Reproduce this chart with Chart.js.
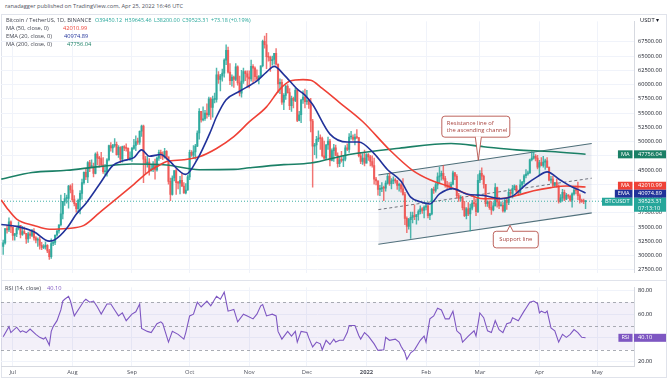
<!DOCTYPE html>
<html><head><meta charset="utf-8">
<script src="https://cdn.jsdelivr.net/npm/chart.js@4.4.1/dist/chart.umd.min.js"></script>
<style>
html,body{margin:0;padding:0;background:#fff;}
#wrap{position:relative;width:668px;height:379px;overflow:hidden;font-family:'Open Sans',sans-serif;}
.t{position:absolute;white-space:nowrap;font-size:5.7px;line-height:8px;color:#434651;}
.v span{margin-right:2.4px;color:#26a69a;}
canvas{position:absolute;left:0;}
</style></head><body>
<div id="wrap">
 <div class="t" style="left:5px;top:2px;color:#50535e">ranadagger published on TradingView.com, Apr 25, 2022 16:46 UTC</div>
 <div style="position:absolute;left:1px;top:14px;width:666px;height:364px;border:1px solid #e0e3eb;box-sizing:border-box"></div>
 <canvas id="pc" width="668" height="266" style="top:14px"></canvas>
 <canvas id="rc" width="668" height="99" style="top:280px"></canvas>
 <div style="position:absolute;left:1px;top:280px;width:666px;height:1px;background:#e0e3eb"></div>
 <div class="t" style="left:6px;top:16px">Bitcoin / TetherUS, 1D, BINANCE</div>
 <div class="t v" style="left:95px;top:16px;font-size:5.4px"><span>O39450.12</span><span>H39645.46</span><span>L38200.00</span><span>C39523.31</span><span>+73.18 (+0.19%)</span></div>
 <div class="t" style="left:6px;top:24.3px">MA (50, close, 0)</div>
 <div class="t" style="left:63px;top:24.3px;color:#ef4136">42010.99</div>
 <div class="t" style="left:6px;top:32px">EMA (20, close, 0)</div>
 <div class="t" style="left:64px;top:32px;color:#21329a">40974.89</div>
 <div class="t" style="left:6px;top:40.3px">MA (200, close, 0)</div>
 <div class="t" style="left:67px;top:40.3px;color:#1b8066">47756.04</div>
 <div class="t" style="left:640px;top:15.5px;color:#131722">USDT ▾</div>
 <div class="t" style="left:5px;top:284px">RSI (14, close)</div>
 <div class="t" style="left:47px;top:284px;color:#7e57c2">40.10</div>
</div>
<script>
// ===== DATA (prices in thousands of USDT, daily candles Jun 26 2021 – Apr 25 2022) =====
const firstOpen = 31.6;
const closes = [
32.2,34.7,34.5,35.9,35.0,
33.5,33.8,34.7,35.3,33.7,34.2,33.9,32.9,33.8,33.5,34.3,33.1,32.7,32.8,31.8,31.4,31.5,31.8,30.8,29.8,32.1,32.3,33.6,34.3,35.4,37.3,39.5,40.0,40.0,42.2,41.5,
39.8,39.1,38.2,39.7,40.9,42.8,44.6,43.8,46.3,45.6,45.6,44.4,47.8,47.1,47.0,45.9,44.7,44.7,46.8,49.3,48.9,49.3,49.5,47.7,49.0,46.9,49.1,48.9,48.8,47.0,47.2,
48.8,49.3,50.0,49.9,51.8,52.7,46.9,46.1,46.4,44.9,45.2,46.0,45.0,47.1,48.1,47.8,47.3,48.3,47.3,43.0,40.7,43.6,44.9,42.8,42.7,43.2,42.2,41.0,41.5,43.8,
48.1,47.6,48.2,49.2,51.5,55.3,53.8,54.0,55.0,54.7,57.5,56.0,57.4,57.4,61.7,60.9,61.5,62.0,64.3,66.0,62.2,60.7,61.3,60.9,63.1,60.3,58.5,60.6,62.3,61.9,61.3,
61.0,63.2,62.9,61.4,61.0,61.5,63.3,67.6,67.0,64.9,64.8,64.2,64.4,65.5,63.6,60.1,60.4,56.9,58.1,59.7,58.6,56.3,57.6,57.2,59.0,53.7,54.7,57.3,57.8,57.0,
57.2,56.5,53.6,49.2,49.4,50.4,50.6,50.5,47.5,47.1,49.4,50.1,46.7,48.4,48.9,47.6,46.1,46.8,46.7,46.9,48.9,48.6,50.8,50.8,50.4,50.8,50.7,47.5,46.5,47.1,46.2,
47.7,47.3,46.5,45.8,43.4,43.1,41.6,41.7,41.9,41.8,42.7,43.9,42.6,43.1,43.2,43.1,42.3,42.4,41.7,40.7,36.5,35.1,36.3,36.7,37.0,36.8,37.2,37.7,38.2,37.9,38.5,
38.7,37.0,37.3,41.6,41.4,42.4,43.8,44.0,44.4,43.5,42.4,42.2,42.1,42.5,44.5,43.9,40.5,40.0,40.1,38.4,37.0,38.2,37.3,38.3,39.2,39.1,37.7,43.2,
44.4,43.9,42.5,39.1,39.4,38.4,38.0,38.7,41.9,39.4,38.7,38.8,37.8,39.7,39.3,41.1,40.9,41.8,42.2,41.3,41.0,42.4,42.9,44.0,44.3,44.5,46.8,47.1,47.4,47.1,45.5,
46.3,45.8,46.4,46.6,45.5,43.2,43.4,42.3,42.8,42.2,39.5,40.1,41.1,39.9,40.6,40.4,39.7,40.8,41.5,41.4,40.5,39.7,39.5,39.45,39.52
];
const highs = [
32.7,34.7,35.3,36.6,36.1,
35.0,33.9,34.9,35.9,35.3,35.1,35.0,33.9,34.1,34.3,34.6,34.7,33.3,33.1,33.2,32.3,31.9,32.4,31.9,31.1,32.9,32.6,33.6,34.5,35.4,40.6,39.5,40.9,40.6,42.3,42.4,
42.6,40.5,39.2,39.9,41.4,43.4,44.7,45.3,46.5,46.7,46.8,46.2,48.0,48.2,47.4,48.1,47.2,46.0,47.0,49.4,49.8,49.5,50.5,49.9,49.3,49.1,49.2,49.3,49.6,48.9,48.2,
49.0,50.4,51.0,50.6,51.9,52.9,52.9,47.4,47.4,47.0,45.9,46.5,46.9,47.3,48.5,48.5,48.2,48.8,48.4,47.3,43.6,44.0,44.9,45.2,43.0,43.9,44.4,42.8,42.6,44.1,
48.5,48.4,49.3,49.5,51.9,55.8,55.3,56.1,55.5,56.6,57.8,57.7,58.0,58.5,62.9,62.3,61.8,62.7,64.5,67.0,66.6,63.7,61.7,61.5,63.7,63.3,61.5,62.5,62.9,62.4,62.4,
62.4,64.3,63.5,63.1,62.6,61.6,63.3,67.8,68.5,69.0,65.6,65.0,65.0,65.5,66.3,63.6,61.0,60.9,58.4,59.9,60.0,59.3,58.0,57.8,59.4,59.2,55.3,57.4,58.9,59.2,
59.0,57.4,57.6,53.9,49.7,50.9,51.9,51.2,50.8,50.1,49.5,50.8,50.4,48.7,49.5,49.4,48.0,47.3,48.3,47.5,49.3,49.6,51.4,51.8,51.2,51.3,52.1,50.7,48.1,47.9,48.5,
47.9,47.9,47.6,47.5,47.1,43.7,43.1,42.3,42.8,42.2,43.1,44.3,44.5,43.5,43.8,43.5,43.2,42.7,42.6,43.5,41.1,36.8,36.5,37.6,37.6,38.9,37.2,38.0,38.7,38.4,38.7,
39.3,38.9,37.4,41.8,42.0,42.7,44.5,45.5,44.8,45.8,43.9,43.0,42.8,42.9,44.8,44.6,44.2,40.9,40.5,40.4,39.5,38.4,39.3,39.0,39.7,40.3,39.9,44.2,
44.9,45.4,44.1,42.5,39.6,39.6,39.5,39.3,42.6,42.0,40.2,39.4,39.3,39.9,39.9,41.7,41.5,42.3,42.4,42.3,41.5,43.3,43.0,44.2,45.1,44.8,46.9,48.2,48.1,47.7,47.6,
46.7,47.2,47.4,46.9,47.2,45.5,43.9,43.9,42.8,43.4,42.4,40.7,41.6,41.5,40.9,40.7,40.6,41.0,41.8,42.2,42.9,40.8,39.9,39.9,39.65
];
const lows = [
30.2,32.0,33.9,34.2,34.0,
32.7,32.7,33.3,34.5,33.1,33.5,33.8,32.1,32.3,33.0,33.3,32.7,32.2,31.6,31.1,31.0,31.2,31.1,30.5,29.3,29.5,31.7,31.9,33.4,33.9,35.2,36.4,38.8,39.2,38.3,41.0,
39.4,38.7,37.6,37.5,37.3,39.9,42.5,43.3,42.8,44.7,45.4,43.8,44.3,45.9,45.5,45.7,44.4,44.2,43.9,46.6,48.3,48.1,49.0,47.6,47.2,46.3,46.4,48.4,48.3,46.9,46.7,
46.5,48.6,48.4,49.5,49.5,50.9,42.8,44.4,45.5,44.1,44.8,44.7,43.4,44.8,46.7,47.0,46.8,47.1,46.9,42.5,39.6,40.6,43.1,40.7,41.7,40.8,42.1,40.9,40.8,41.4,
43.3,47.4,47.1,46.9,49.1,50.4,53.4,53.6,53.7,54.1,54.4,53.9,54.3,56.8,56.9,60.2,58.9,60.6,61.3,63.5,62.0,60.0,59.7,59.5,60.7,59.9,58.0,57.8,60.2,60.7,59.6,
59.4,60.6,60.4,60.7,60.8,60.1,61.4,63.1,66.4,62.8,64.1,62.3,63.4,63.6,63.4,58.6,58.4,56.5,55.6,57.4,58.5,55.6,55.3,55.9,57.0,53.5,53.6,53.3,56.7,55.9,
56.5,55.8,51.7,42.0,47.7,47.1,50.0,48.6,47.3,46.9,46.8,48.6,45.7,46.6,46.5,47.5,45.5,45.6,46.4,45.6,46.6,48.4,48.1,50.4,50.2,49.4,50.5,47.3,46.1,46.0,45.7,
46.2,46.7,45.7,45.5,42.5,42.4,40.6,40.5,41.2,39.6,41.3,42.5,42.3,41.7,42.6,42.7,41.6,41.3,41.1,40.6,35.4,34.0,34.6,33.0,35.7,36.3,35.5,36.2,37.3,37.4,36.6,
38.0,36.6,36.3,37.1,40.9,41.1,41.7,42.7,43.2,43.2,42.0,41.7,41.9,41.6,42.4,43.3,40.1,39.5,39.6,38.0,36.8,36.4,37.0,34.3,38.0,38.6,37.0,37.5,
42.8,43.3,41.8,38.6,38.6,38.1,37.2,37.8,38.7,38.5,38.2,38.7,37.6,37.6,38.1,38.9,40.5,40.1,41.5,40.9,40.5,40.9,41.8,42.6,43.6,44.1,44.4,46.6,46.9,46.6,45.2,
44.2,45.7,45.5,45.1,45.4,43.1,42.7,42.1,42.1,42.0,39.2,39.3,39.6,39.6,39.8,40.0,39.5,38.5,40.6,40.8,39.8,39.2,39.3,39.1,38.2
];
// moving averages (day index, value in thousands)
const ma50Days = [-6,-3,2,11,19,28,37,45,54,63,71,76,80,89,97,106,115,123,132,139,144,151,155,161,170,182,196,208,217,226,234,245,253,262,271,280,288,298];
const ma50Vals = [39.75,38.31,36.39,35.28,34.61,34.73,35.28,37.48,39.97,42.5,44.8,45.8,46.5,46.8,47.33,48.79,50.87,53.44,56.09,59.21,60.6,60.87,60.77,59.32,56.84,53.52,48.55,44.95,43.29,42.19,41.08,39.97,39.97,40.53,41.36,41.91,42.19,42.01];
const emaDays = [-6,2,11,19,22,28,33,38,45,52,57,63,67,71,77,81,90,96,103,106,111,118,127,132,136,141,148,152,156,165,174,180,188,195,202,207,212,217,222,229,236,245,254,260,267,273,278,285,290,294,298];
const emaVals = [35.44,35.11,34.17,32.51,32.79,34.73,37.22,39.14,42.46,45.78,46.6,47.17,48.54,47.43,47.72,46.72,44.23,46.89,51.86,54.35,57.34,58.83,60.65,62.19,63.19,61.76,59.21,58.16,56.5,51.31,49.92,49.92,47.88,45.06,43.02,40.25,39.42,39.04,40.8,41.74,40.8,40.53,39.97,40.42,42.46,43.85,44.68,43.2,42.2,41.6,40.97];
const ma200Days = [-6,10,28,45,62,80,97,115,123,141,155,175,201,228,245,262,280,298];
const ma200Vals = [43.4,44.56,44.95,45.6,46.06,45.89,45.06,45.11,45.39,45.94,46.22,47.72,48.83,49.66,49.09,48.54,48.26,47.76];
// RSI (14)
const rsiDays = [-5,-2,-1,2,4,5,7,9,12,14,16,17,19,20,21,23,25,26,27,29,30,32,35,37,38,40,42,44,46,49,51,53,55,57,59,62,64,66,67,70,72,75,77,78,81,83,86,89,90,92,94,96,98,101,103,106,108,110,112,115,117,120,122,125,127,129,130,132,135,137,138,140,143,145,147,148,150,153,154,156,158,160,161,163,165,167,168,170,172,174,175,178,180,181,183,185,188,190,193,194,196,199,201,202,204,205,207,209,212,214,215,217,219,221,223,225,227,229,231,233,234,237,240,241,243,245,247,249,251,253,255,257,259,260,263,266,267,269,271,273,274,275,277,278,280,282,284,286,288,290,292,294,296,298];
const rsiVals = [41,49.5,44.5,49,45,46,44.5,47.5,43,40.5,39,40.5,34,45.5,49.5,54.5,63.5,71,72.5,75,71,58.5,66,71,72.5,70,71,66,60,68.5,68.5,63.5,58.5,61,54.5,60,62,68.5,48,45.5,44.5,52,53.5,52,36.5,45.5,43,39,44.5,58.5,60,70,66,71,67,75,72.5,78.5,62.5,64,53.5,60,58.5,56,60,67,68,58.5,60,58.5,45.5,39,45.5,41.5,45.5,36.5,45.5,44.5,40,32.5,36.5,35,30,38,34.5,39,36.5,38,38,44.5,50.5,50.5,42,39,44.5,41.5,35,29.5,30,40.5,38,39,36.5,33,27.5,22,27.5,30,38,41.5,36.5,56,58.5,65,63.5,56,56,62.5,46,43,36.5,41.5,46,41.5,61,57,46,44.5,54.5,47,44.5,52,53,57,54.5,62.5,65,70,71,69,61,62.5,61,62.5,48.5,46,36.5,43,40.5,43,47,44.5,40.5,40.1];
// ascending channel (drawn annotation) endpoints
const chDays = [190.2, 301.2];
const chUpper = [44.12, 49.66];
const chMid = [38.05, 43.57];
const chLower = [31.96, 37.48];
const lastPrice = 39.52331;
// axes
const monthDays = [0,31,62,92,123,153,184,215,243,274,304];
const monthLabels = ['Jul','Aug','Sep','Oct','Nov','Dec','2022','Feb','Mar','Apr','May'];
const priceTicks = [27.5,30,32.5,35,37.5,40,42.5,45,47.5,50,52.5,55,57.5,60,62.5,65,67.5];
const rsiTicks = [20,40,60,80];
const rsiLevels = [70,50,30];
// right-axis tags
const priceTags = [
 {label:'MA', value:47.75604, text:'47756.04', color:'#1b8066'},
 {label:'MA', value:42.01099, text:'42010.99', color:'#ef4136'},
 {label:'EMA', value:40.97489, text:'40974.89', color:'#21329a'},
 {label:'BTCUSDT', value:39.52331, text:'39523.31', sub:'07:13:10', color:'#26a69a'}
];
const rsiTag = {label:'RSI', value:40.10, text:'40.10', color:'#7e57c2'};
// text callouts
const callouts = [
 {lines:['Resistance line of','the ascending channel'], cx:240.9, cy:52.61, w:68, h:21, tipX:242.2, tipY:46.72, side:'bottom', align:'left'},
 {lines:['Support line'], cx:261.7, cy:32.79, w:45, h:16.6, tipX:258.7, tipY:35.28, side:'top', align:'center'}
];

// ===== RENDERING =====
const FONT = "'Open Sans', sans-serif";
Chart.defaults.font.family = FONT;
Chart.defaults.animation = false;
const X_MIN = -6.14, X_MAX = 323.2;
const days = closes.map((_, i) => i - 5);
const opens = [firstOpen, ...closes.slice(0, -1)];
const UP = 'rgba(38,166,154,0.8)', DN = 'rgba(239,83,80,0.8)';
const candleCol = closes.map((c, i) => c >= opens[i] ? UP : DN);
const pts = (xs, ys) => xs.map((x, i) => ({x, y: ys[i]}));

function drawTags(ctx, area, scale, tags) {
  const items = tags.map(t => ({...t, cy: scale.getPixelForValue(t.value), h: t.sub ? 14 : 8}));
  items.sort((p, q) => p.cy - q.cy);
  for (let k = 0; k < 30; k++) for (let i = 1; i < items.length; i++) {
    const p = items[i-1], q = items[i];
    const ov = (p.cy - 4 + p.h) - (q.cy - 4);
    if (ov > 0) { p.cy -= ov/2; q.cy += ov/2; }
  }
  ctx.save();
  ctx.font = '5.6px ' + FONT; ctx.textBaseline = 'middle';
  items.forEach(t => {
    const top = t.cy - 4;
    ctx.fillStyle = t.color; ctx.fillRect(area.right, top, 32, t.h);
    ctx.fillStyle = '#fff'; ctx.textAlign = 'left';
    ctx.fillText(t.text, area.right + 4, t.cy);
    if (t.sub) ctx.fillText(t.sub, area.right + 4, t.cy + 6.3);
    const w = ctx.measureText(t.label).width + 6;
    ctx.fillStyle = t.color; ctx.fillRect(area.right - 1.5 - w, top, w, 8);
    ctx.fillStyle = '#fff'; ctx.textAlign = 'center';
    ctx.fillText(t.label, area.right - 1.5 - w/2, t.cy);
  });
  ctx.restore();
}

const calloutPlugin = {id:'callouts', afterDatasetsDraw(chart) {
  const {ctx, scales:{x, y}} = chart;
  ctx.save();
  callouts.forEach(c => {
    const X = x.getPixelForValue(c.cx), Y = y.getPixelForValue(c.cy);
    const L = X - c.w/2, T = Y - c.h/2, B = T + c.h;
    const tx = x.getPixelForValue(c.tipX), ty = y.getPixelForValue(c.tipY);
    const by = c.side === 'bottom' ? B : T;
    ctx.fillStyle = '#fff'; ctx.strokeStyle = '#b5524c'; ctx.lineWidth = 0.9;
    ctx.beginPath(); ctx.roundRect(L, T, c.w, c.h, 3); ctx.fill(); ctx.stroke();
    ctx.beginPath(); ctx.moveTo(tx - 3, by); ctx.lineTo(tx, ty); ctx.lineTo(tx + 3, by); ctx.closePath(); ctx.fill();
    ctx.beginPath(); ctx.moveTo(tx - 3, by); ctx.lineTo(tx, ty); ctx.lineTo(tx + 3, by); ctx.stroke();
    ctx.fillRect(tx - 2.3, by - 0.8, 4.6, 1.6);
    ctx.fillStyle = '#a8433e'; ctx.font = '5.8px ' + FONT; ctx.textBaseline = 'middle';
    const lh = 6.7, y0 = Y - (c.lines.length - 1) * lh / 2;
    c.lines.forEach((s, i) => {
      if (c.align === 'left') { ctx.textAlign = 'left'; ctx.fillText(s, L + 5, y0 + i*lh); }
      else { ctx.textAlign = 'center'; ctx.fillText(s, X, y0 + i*lh); }
    });
  });
  ctx.restore();
}, afterDraw(chart) { drawTags(chart.ctx, chart.chartArea, chart.scales.y, priceTags); }};

const line = (data, color, width, order, extra) => Object.assign({type:'line', data, borderColor:color, borderWidth:width, pointRadius:0, order, cubicInterpolationMode:'monotone'}, extra || {});

new Chart(document.getElementById('pc'), {
  type:'bar',
  data:{datasets:[
    line(pts(chDays, chUpper), '#4d6e78', 1.1, 9, {fill:'+1', backgroundColor:'rgba(160,168,190,0.17)'}),
    line(pts(chDays, chLower), '#4d6e78', 1.1, 9),
    line(pts(chDays, chMid), '#60636e', 0.9, 8, {borderDash:[3,2.5]}),
    line([{x:X_MIN, y:lastPrice}, {x:X_MAX, y:lastPrice}], '#26a69a', 0.9, 7, {borderDash:[1,2]}),
    {type:'bar', data: days.map((d, i) => ({x:d, y:[lows[i], highs[i]]})), backgroundColor:candleCol, barThickness:0.8, grouped:false, order:6},
    {type:'bar', data: days.map((d, i) => ({x:d, y:[opens[i], closes[i]]})), backgroundColor:candleCol, barThickness:1.5, minBarLength:1, grouped:false, order:5},
    line(pts(ma200Days, ma200Vals), '#1b8066', 1.6, 3),
    line(pts(ma50Days, ma50Vals), '#ef4136', 1.6, 2),
    line(pts(emaDays, emaVals), '#21329a', 1.6, 1)
  ]},
  options:{
    responsive:false, events:[],
    layout:{padding:{left:1, right:1, top:0, bottom:0}},
    plugins:{legend:{display:false}, tooltip:{enabled:false}},
    scales:{
      x:{type:'linear', min:X_MIN, max:X_MAX, offset:false,
         afterBuildTicks:s => { s.ticks = monthDays.map(v => ({value:v})); },
         ticks:{display:false}, grid:{color:'#f0f3fa', drawTicks:false, offset:false}, border:{display:false},
         afterFit:s => { s.height = 0; }},
      y:{position:'right', min:26.986, max:71.099,
         afterBuildTicks:s => { s.ticks = priceTicks.map(v => ({value:v})); },
         ticks:{callback:v => (v*1000).toFixed(2), font:{size:5.6}, color:'#131722', padding:4, autoSkip:false},
         grid:{color:'#f0f3fa', drawTicks:false}, border:{display:true, color:'#d6d9e0'},
         afterFit:s => { s.width = 33; }}
    }
  },
  plugins:[calloutPlugin]
});

const rsiPlugin = {id:'rsiband', beforeDatasetsDraw(chart) {
  const {ctx, chartArea:a, scales:{y}} = chart;
  const yt = y.getPixelForValue(rsiLevels[0]), yb = y.getPixelForValue(rsiLevels[2]);
  ctx.save();
  ctx.fillStyle = 'rgba(126,87,194,0.09)'; ctx.fillRect(a.left, yt, a.right - a.left, yb - yt);
  ctx.setLineDash([3,3]); ctx.strokeStyle = '#9598a1'; ctx.lineWidth = 0.8;
  rsiLevels.forEach(v => { const p = Math.round(y.getPixelForValue(v)) + 0.5; ctx.beginPath(); ctx.moveTo(a.left, p); ctx.lineTo(a.right, p); ctx.stroke(); });
  ctx.restore();
}, afterDraw(chart) { drawTags(chart.ctx, chart.chartArea, chart.scales.y, [rsiTag]); }};

new Chart(document.getElementById('rc'), {
  type:'line',
  data:{datasets:[{data:pts(rsiDays, rsiVals), borderColor:'#7e57c2', borderWidth:1.1, pointRadius:0, tension:0}]},
  options:{
    responsive:false, events:[],
    layout:{padding:{left:1, right:1, top:0, bottom:0}},
    plugins:{legend:{display:false}, tooltip:{enabled:false}},
    scales:{
      x:{type:'linear', min:X_MIN, max:X_MAX,
         afterBuildTicks:s => { s.ticks = monthDays.map(v => ({value:v})); },
         ticks:{callback:(v, i) => monthLabels[i], autoSkip:false, maxRotation:0, padding:3, color:'#50535e',
                font:c => ({size:5.8, weight: (c.tick && c.tick.value === 184) ? 'bold' : 'normal'})},
         grid:{color:'#f0f3fa', drawTicks:false}, border:{display:true, color:'#d6d9e0'},
         afterFit:s => { s.height = 13; }},
      y:{position:'right', min:16.4, max:82.5,
         afterBuildTicks:s => { s.ticks = rsiTicks.map(v => ({value:v})); },
         ticks:{callback:v => v.toFixed(2), font:{size:5.6}, color:'#131722', padding:4},
         grid:{color:'#f0f3fa', drawTicks:false}, border:{display:true, color:'#d6d9e0'},
         afterFit:s => { s.width = 33; }}
    }
  },
  plugins:[rsiPlugin]
});
</script>
</body></html>
